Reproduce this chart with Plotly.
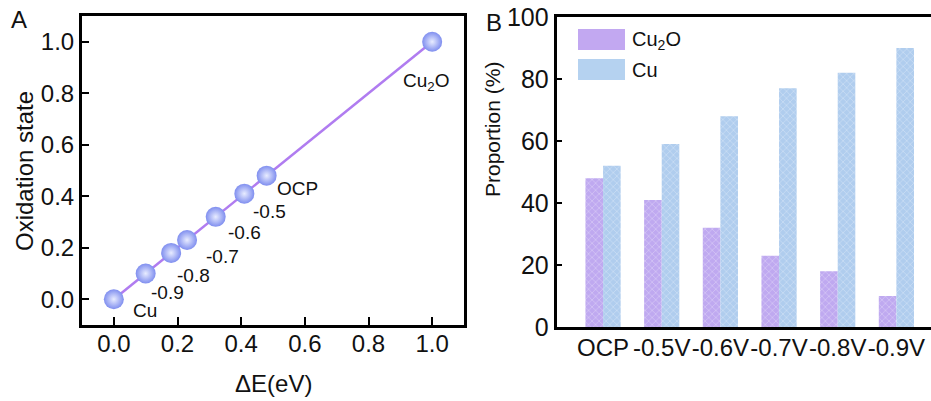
import plotly.graph_objects as go

# ---- Panel A data ----
delta_e = [0.0, 0.10, 0.18, 0.23, 0.32, 0.41, 0.48, 1.0]
ox_state = [0.0, 0.10, 0.18, 0.23, 0.32, 0.41, 0.48, 1.0]
point_labels = ["Cu", "-0.9", "-0.8", "-0.7", "-0.6", "-0.5", "OCP", "Cu<sub>2</sub>O"]
label_dx = [31, 22, 22, 35, 29, 25, 31, -6]
label_dy = [-11, -19, -23, -16, -16, -18, -13, -40]

# ---- Panel B data ----
categories = ["OCP", "-0.5V", "-0.6V", "-0.7V", "-0.8V", "-0.9V"]
cu2o_pct = [48, 41, 32, 23, 18, 10]
cu_pct = [52, 59, 68, 77, 82, 90]
series_names = ["Cu<sub>2</sub>O", "Cu"]

FONT = "Liberation Sans, Arial, sans-serif"
W, H = 931, 401

fig = go.Figure()

fig.add_trace(go.Scatter(
    x=delta_e, y=ox_state, mode="lines+markers",
    line=dict(color="#b07cf0", width=2.5),
    marker=dict(size=20, color="#7f8eef",
                gradient=dict(type="radial", color="#e8ecff"),
                line=dict(width=0)),
    xaxis="x", yaxis="y", showlegend=False, hoverinfo="x+y"))

for xv, yv, t, dx, dy in zip(delta_e, ox_state, point_labels, label_dx, label_dy):
    fig.add_annotation(x=xv, y=yv, xref="x", yref="y", text=t, showarrow=False,
                       xanchor="center", yanchor="middle",
                       xshift=dx, yshift=dy, font=dict(family=FONT, size=19, color="#111"))

fig.add_trace(go.Bar(
    x=categories, y=cu2o_pct, name="Cu2O", xaxis="x2", yaxis="y2",
    marker=dict(color="#c4b0f2", line=dict(width=0),
                pattern=dict(shape="x", fgcolor="rgba(255,255,255,0.6)",
                             bgcolor="#bfa9f0", size=5, solidity=0.3)),
    showlegend=False))
fig.add_trace(go.Bar(
    x=categories, y=cu_pct, name="Cu", xaxis="x2", yaxis="y2",
    marker=dict(color="#b8d8ee", line=dict(width=0),
                pattern=dict(shape="x", fgcolor="rgba(255,255,255,0.6)",
                             bgcolor="#b0cdee", size=5, solidity=0.3)),
    showlegend=False))

# custom legend swatches (panel B)
def px(xp):
    return xp / W

def py(yp):
    return 1 - yp / H

sw_colors = ["#c2a8f1", "#b5d2f0"]
sw_tops = [29, 59]
for c, top, nm in zip(sw_colors, sw_tops, series_names):
    fig.add_shape(type="rect", xref="paper", yref="paper",
                  x0=px(578), x1=px(625), y0=py(top + 21), y1=py(top),
                  fillcolor=c, line=dict(width=0))
    fig.add_annotation(xref="paper", yref="paper", x=px(630), y=py(top + 11),
                       xanchor="left", yanchor="middle", text=nm, showarrow=False,
                       font=dict(family=FONT, size=20, color="#111"))

def label(x, y, text, size, angle=0):
    fig.add_annotation(xref="paper", yref="paper", x=px(x), y=py(y), text=text,
                       xanchor="center", yanchor="middle", textangle=angle,
                       showarrow=False, font=dict(family=FONT, size=size, color="#111"))

# axis titles and panel labels
label(273, 383, "ΔE(eV)", 24)
label(24, 171, "Oxidation state", 24, -90)
label(492, 130, "Proportion (%)", 21, -90)
label(19, 19, "A", 24)
label(494, 23, "B", 24)

axis_common = dict(showgrid=False, zeroline=False, linecolor="black", linewidth=3,
                   ticks="inside", tickcolor="black", tickwidth=2, automargin=False)

fig.update_layout(
    width=W, height=H, margin=dict(l=0, r=0, t=0, b=0, autoexpand=False),
    paper_bgcolor="white", plot_bgcolor="white",
    font=dict(family=FONT, color="#111"),
    barmode="group", bargap=0.4, bargroupgap=0,
    xaxis=dict(domain=[px(82), px(464)], anchor="y", range=[-0.1, 1.1],
               tickvals=[0, 0.2, 0.4, 0.6, 0.8, 1.0], ticktext=["0.0", "0.2", "0.4", "0.6", "0.8", "1.0"],
               ticklen=8, mirror=True, tickangle=0, ticklabelstandoff=-5,
               tickfont=dict(size=24, family=FONT, color="#111"), **axis_common),
    yaxis=dict(domain=[py(325), py(16)], anchor="x", range=[-0.1, 1.1],
               tickvals=[0, 0.2, 0.4, 0.6, 0.8, 1.0], ticktext=["0.0", "0.2", "0.4", "0.6", "0.8", "1.0"],
               ticklen=7, mirror=True, tickfont=dict(size=24, family=FONT, color="#111"),
               **axis_common),
    xaxis2=dict(domain=[px(556.7), 1.0], anchor="y2", type="category",
                range=[-0.79, 5.59], mirror=True, showgrid=False, zeroline=False,
                linecolor="black", linewidth=3, ticks="", tickangle=0, automargin=False,
                ticklabelstandoff=-3, tickfont=dict(size=24, family=FONT, color="#111")),
    yaxis2=dict(domain=[py(327), py(17)], anchor="x2", range=[0, 100],
                tickvals=[0, 20, 40, 60, 80, 100], ticklen=5, mirror=False,
                tickfont=dict(size=25, family=FONT, color="#111"), **axis_common),
)

fig.write_html("out.html")
